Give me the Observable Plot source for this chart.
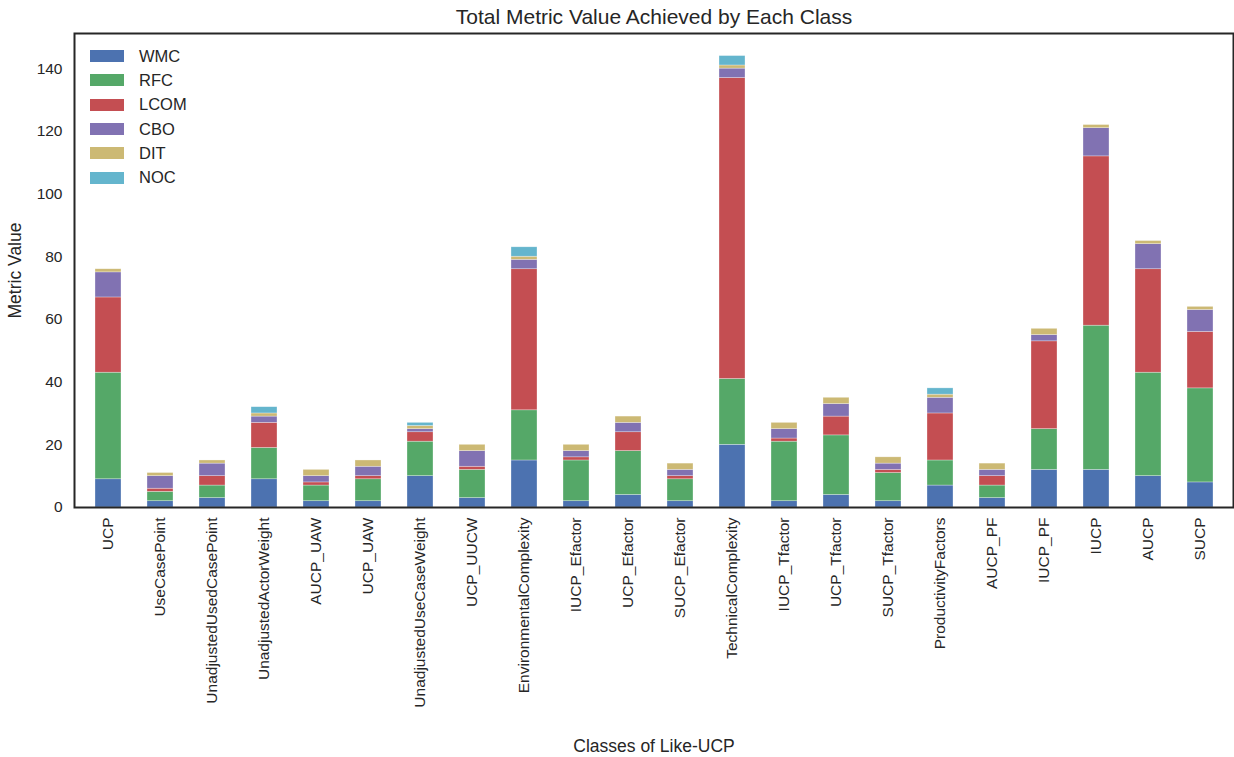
<!DOCTYPE html>
<html>
<head>
<meta charset="utf-8">
<script src="https://cdn.jsdelivr.net/npm/d3@7"></script>
<script src="https://cdn.jsdelivr.net/npm/@observablehq/plot@0.6"></script>
<style>
  html, body { margin: 0; padding: 0; background: #fff; }
  #wrap { position: relative; width: 1234px; height: 757px; font-family: "Liberation Sans", Arial, sans-serif; color: #262626; }
  #legend { position: absolute; left: 90px; top: 44px; font-size: 16.5px; }
  .row { display: flex; align-items: center; height: 24.3px; }
  .sw { width: 34px; height: 12px; margin-right: 15px; }
</style>
</head>
<body>
<div id="wrap"><div id="legend"></div></div>
<script>
const classes = ["UCP","UseCasePoint","UnadjustedUsedCasePoint","UnadjustedActorWeight","AUCP_UAW","UCP_UAW","UnadjustedUseCaseWeight","UCP_UUCW","EnvironmentalComplexity","IUCP_Efactor","UCP_Efactor","SUCP_Efactor","TechnicalComplexity","IUCP_Tfactor","UCP_Tfactor","SUCP_Tfactor","ProductivityFactors","AUCP_PF","IUCP_PF","IUCP","AUCP","SUCP"];
const metrics = ["WMC","RFC","LCOM","CBO","DIT","NOC"];
const colors = ["#4C72B0","#55A868","#C44E52","#8172B2","#CCB974","#64B5CD"];
const WMC  = [9,2,3,9,2,2,10,3,15,2,4,2,20,2,4,2,7,3,12,12,10,8];
const RFC  = [34,3,4,10,5,7,11,9,16,13,14,7,21,19,19,9,8,4,13,46,33,30];
const LCOM = [24,1,3,8,1,1,3,1,45,1,6,1,96,1,6,1,15,3,28,54,33,18];
const CBO  = [8,4,4,2,2,3,1,5,3,2,3,2,3,3,4,2,5,2,2,9,8,7];
const DIT  = [1,1,1,1,2,2,1,2,1,2,2,2,1,2,2,2,1,2,2,1,1,1];
const NOC  = [0,0,0,2,0,0,1,0,3,0,0,0,3,0,0,0,2,0,0,0,0,0];
const yTicks = [0,20,40,60,80,100,120,140];
const title = "Total Metric Value Achieved by Each Class";
const xLabel = "Classes of Like-UCP";
const yLabel = "Metric Value";

const series = {WMC, RFC, LCOM, CBO, DIT, NOC};
const data = [];
metrics.forEach(m => classes.forEach((c, i) => data.push({cls: c, metric: m, value: series[m][i]})));

const totalMax = d3.max(classes.map((c, i) => metrics.reduce((s, m) => s + series[m][i], 0)));

const chart = Plot.plot({
  width: 1234,
  height: 757,
  marginLeft: 74,
  marginRight: 1,
  marginTop: 33,
  marginBottom: 250,
  style: {fontFamily: "'Liberation Sans', Arial, sans-serif", fontSize: "15.5px", color: "#262626", background: "#fff"},
  x: {domain: classes, paddingInner: 0.5, paddingOuter: 0.25},
  y: {domain: [0, totalMax * 1.05]},
  color: {domain: metrics, range: colors},
  marks: [
    Plot.barY(data, {x: "cls", y: "value", fill: "metric", order: metrics, stroke: "white", strokeWidth: 0.6, strokeOpacity: 0.5}),
    Plot.axisY({ticks: yTicks, tickSize: 0, tickPadding: 12, label: null, fontSize: 15.5}),
    Plot.axisX({tickSize: 0, tickPadding: 10, tickRotate: -90, label: null, fontSize: 15.5}),
    Plot.frame({stroke: "#262626", strokeWidth: 2}),
    Plot.text([title], {frameAnchor: "top", lineAnchor: "middle", dy: -16, fontSize: 21, fill: "#262626"}),
    Plot.text([xLabel], {frameAnchor: "bottom", lineAnchor: "middle", dy: 239, fontSize: 17.5, fill: "#262626"}),
    Plot.text([yLabel], {frameAnchor: "left", lineAnchor: "middle", textAnchor: "middle", rotate: -90, dx: -59, fontSize: 17.5, fill: "#262626"})
  ]
});
const wrap = document.getElementById("wrap");
wrap.insertBefore(chart, wrap.firstChild);

const legend = document.getElementById("legend");
metrics.forEach((m, i) => {
  const row = document.createElement("div");
  row.className = "row";
  const sw = document.createElement("div");
  sw.className = "sw";
  sw.style.background = colors[i];
  const t = document.createElement("span");
  t.textContent = m;
  row.appendChild(sw); row.appendChild(t);
  legend.appendChild(row);
});
</script>
</body>
</html>
